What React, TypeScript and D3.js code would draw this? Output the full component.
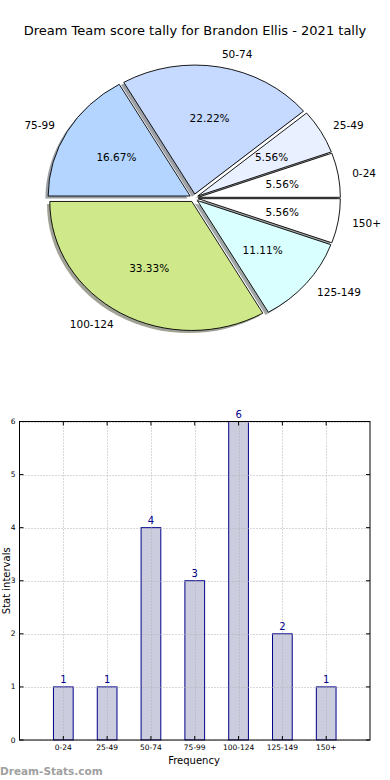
import React from "react";
import * as d3 from "d3";

const categories = ["0-24", "25-49", "50-74", "75-99", "100-124", "125-149", "150+"];
const counts = [1, 1, 4, 3, 6, 2, 1];
const pieColors = ["#ffffff", "#e9f0ff", "#c6d9ff", "#b3d5ff", "#cfe98a", "#daffff", "#ffffff"];
const yTicks = [0, 1, 2, 3, 4, 5, 6];

const W = 390;
const H = 780;
const FONT = "DejaVu Sans, sans-serif";

function shadowColor(c: string) {
  const col = d3.rgb(c);
  const f = (v: number) => Math.round(0.5 * v * 0.3 + 0.5 * 255);
  return d3.rgb(f(col.r), f(col.g), f(col.b)).formatHex();
}

function Pie() {
  const cx = 194;
  const cy = 198;
  const rx = 142;
  const ry = 129;
  const explode = 0.031;
  const total = d3.sum(counts);
  const pie = d3
    .pie<number>()
    .sort(null)
    .startAngle(Math.PI / 2)
    .endAngle(Math.PI / 2 - 2 * Math.PI);
  const arcs = pie(counts);
  const arc = d3.arc<d3.PieArcDatum<number>>().innerRadius(0).outerRadius(1);
  const items = arcs.map((a, i) => {
    const mid = (a.startAngle + a.endAngle) / 2;
    const ux = Math.sin(mid);
    const uy = -Math.cos(mid);
    const ox = cx + explode * rx * ux;
    const oy = cy + explode * ry * uy;
    return { a, i, ux, uy, ox, oy };
  });
  return (
    <g>
      {items.map(({ a, i, ox, oy }) => (
        <path
          key={"s" + i}
          d={arc(a) || ""}
          transform={`translate(${ox - 2.8},${oy + 2.6}) scale(${rx},${ry})`}
          fill={shadowColor(pieColors[i])}
          stroke="none"
        />
      ))}
      {items.map(({ a, i, ox, oy }) => (
        <path
          key={"w" + i}
          d={arc(a) || ""}
          transform={`translate(${ox},${oy}) scale(${rx},${ry})`}
          fill={pieColors[i]}
          stroke="#000"
          strokeWidth={0.9}
          vectorEffect="non-scaling-stroke"
        />
      ))}
      {items.map(({ i, ux, uy, ox, oy }) => (
        <text
          key={"l" + i}
          x={ox + 1.1 * rx * ux}
          y={oy + 1.1 * ry * uy}
          textAnchor={ux > 0 ? "start" : "end"}
          dominantBaseline="central"
          fontFamily={FONT}
          fontSize={10.5}
          fill="#000"
        >
          {categories[i]}
        </text>
      ))}
      {items.map(({ i, ux, uy, ox, oy }) => (
        <text
          key={"p" + i}
          x={ox + 0.6 * rx * ux}
          y={oy + 0.6 * ry * uy}
          textAnchor="middle"
          dominantBaseline="central"
          fontFamily={FONT}
          fontSize={10.5}
          fill="#000"
        >
          {((counts[i] / total) * 100).toFixed(2) + "%"}
        </text>
      ))}
    </g>
  );
}

function Bars() {
  const left = 19.5;
  const right = 370;
  const top = 421.5;
  const bottom = 740;
  const x = d3.scaleLinear().domain([-1, 7]).range([left, right]);
  const y = d3.scaleLinear().domain([0, 6]).range([bottom, top]);
  const bw = x(0.45) - x(0);
  const grid = "#b0b0b0";
  return (
    <g>
      <rect x={left} y={top} width={right - left} height={bottom - top} fill="#fff" />
      {counts.map((v, i) => (
        <rect
          key={"b" + i}
          x={x(i) - bw / 2}
          y={y(v)}
          width={bw}
          height={y(0) - y(v)}
          fill="#ccccdf"
          stroke="#00008b"
          strokeWidth={1}
        />
      ))}
      {yTicks.map((t) => (
        <line
          key={"gy" + t}
          x1={left}
          x2={right}
          y1={Math.round(y(t)) + 0.5}
          y2={Math.round(y(t)) + 0.5}
          stroke={grid}
          strokeDasharray="1,2"
        />
      ))}
      {categories.map((c, i) => (
        <line
          key={"gx" + i}
          x1={Math.round(x(i)) + 0.5}
          x2={Math.round(x(i)) + 0.5}
          y1={top}
          y2={bottom}
          stroke={grid}
          strokeDasharray="1,2"
        />
      ))}
      <rect x={left} y={top} width={right - left} height={bottom - top} fill="none" stroke="#000" strokeWidth={1} />
      {yTicks.map((t) => (
        <g key={"ty" + t}>
          <line x1={left} x2={left + 4} y1={y(t)} y2={y(t)} stroke="#000" />
          <line x1={right - 4} x2={right} y1={y(t)} y2={y(t)} stroke="#000" />
          <text
            x={left - 4}
            y={y(t)}
            textAnchor="end"
            dominantBaseline="central"
            fontFamily={FONT}
            fontSize={7.5}
            fill="#000"
          >
            {t}
          </text>
        </g>
      ))}
      {categories.map((c, i) => (
        <g key={"tx" + i}>
          <line x1={x(i)} x2={x(i)} y1={bottom} y2={bottom - 4} stroke="#000" />
          <line x1={x(i)} x2={x(i)} y1={top} y2={top + 4} stroke="#000" />
          <text
            x={x(i)}
            y={bottom + 10}
            textAnchor="middle"
            fontFamily={FONT}
            fontSize={7.5}
            fill="#000"
          >
            {c}
          </text>
        </g>
      ))}
      {counts.map((v, i) => (
        <text
          key={"v" + i}
          x={x(i)}
          y={y(v) - 4}
          textAnchor="middle"
          fontFamily={FONT}
          fontSize={10}
          fill="#00008b"
        >
          {v}
        </text>
      ))}
      <text x={194} y={764} textAnchor="middle" fontFamily={FONT} fontSize={10} fill="#000">
        Frequency
      </text>
      <text
        transform={`translate(9.5,${(top + bottom) / 2}) rotate(-90)`}
        textAnchor="middle"
        fontFamily={FONT}
        fontSize={10}
        fill="#000"
      >
        Stat intervals
      </text>
      <text x={0} y={775} fontFamily={FONT} fontSize={10.5} fontWeight="bold" fill="#a0a0a0">
        Dream-Stats.com
      </text>
    </g>
  );
}

export default function App() {
  return (
    <svg
      width={W}
      height={H}
      style={{ position: "absolute", left: 0, top: 0, background: "#fff" }}
    >
      <rect width={W} height={H} fill="#fff" />
      <text x={195} y={34.5} textAnchor="middle" fontFamily={FONT} fontSize={13} fill="#000">
        Dream Team score tally for Brandon Ellis - 2021 tally
      </text>
      <Pie />
      <Bars />
    </svg>
  );
}
